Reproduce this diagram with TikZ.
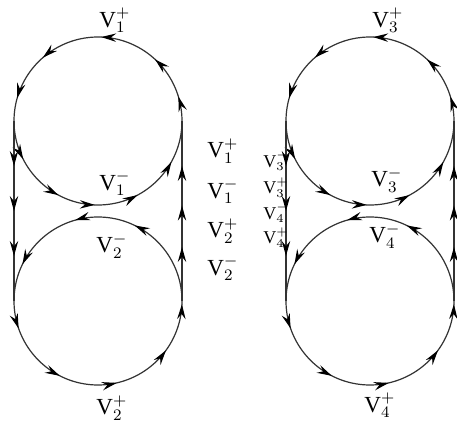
\documentclass[tikz,border=0pt]{standalone}
\usepackage{fontspec}
\setmainfont{Liberation Serif}
\usetikzlibrary{arrows.meta, decorations.markings}

\newcommand{\vlab}[2]{$\mathrm{V}^{#2}_{#1}$}
\newcommand{\vtight}[2]{V\rlap{\raisebox{0.5em}{$\scriptstyle#2$}}\raisebox{-0.2em}{$\scriptstyle#1$}}

\begin{document}
\begin{tikzpicture}[
    x=0.5pt, y=0.5pt,
    >={Stealth[length=7.5pt, width=4.2pt, inset=2.6pt, color=black]},
    % Styles for circuits, flow marks and labels
    track/.style={draw=black!80, line width=0.6pt},
    upperflow/.style={postaction={decorate}, decoration={markings,
        mark=at position 0.047 with {\arrow{>}},
        mark=at position 0.131 with {\arrow{>}},
        mark=at position 0.244 with {\arrow{>}},
        mark=at position 0.364 with {\arrow{>}},
        mark=at position 0.456 with {\arrow{>}},
        mark=at position 0.575 with {\arrow{>}},
        mark=at position 0.672 with {\arrow{>}},
        mark=at position 0.744 with {\arrow{>}},
        mark=at position 0.828 with {\arrow{>}},
        mark=at position 0.919 with {\arrow{>}}}},
    lowerflow/.style={postaction={decorate}, decoration={markings,
        mark=at position 0.178 with {\arrow{>}},
        mark=at position 0.294 with {\arrow{>}},
        mark=at position 0.428 with {\arrow{>}},
        mark=at position 0.553 with {\arrow{>}},
        mark=at position 0.675 with {\arrow{>}},
        mark=at position 0.786 with {\arrow{>}},
        mark=at position 0.900 with {\arrow{>}},
        mark=at position 0.994 with {\arrow{>}}}},
    downflow/.style={postaction={decorate}, decoration={markings,
        mark=at position 0.25 with {\arrow{>}},
        mark=at position 0.50 with {\arrow{>}},
        mark=at position 0.75 with {\arrow{>}}}},
    upflow/.style={postaction={decorate}, decoration={markings,
        mark=at position 0.30 with {\arrow{>}},
        mark=at position 0.53 with {\arrow{>}},
        mark=at position 0.75 with {\arrow{>}}}},
    vname/.style={anchor=base west, inner sep=0pt, font=\fontsize{11.5}{13}\selectfont},
    smallname/.style={anchor=base west, inner sep=0pt, font=\fontsize{9}{10}\selectfont}
]
    \useasboundingbox (0,0) rectangle (457,430);

    % --- CENTRES AND TANGENT POINTS ---
    \coordinate (c1) at (98,309);
    \coordinate (c2) at (98,129);
    \coordinate (c3) at (370,309);
    \coordinate (c4) at (370,129);
    \coordinate (c1w) at (14,309);
    \coordinate (c2w) at (14,129);
    \coordinate (c1e) at (182,309);
    \coordinate (c2e) at (182,129);
    \coordinate (c3w) at (286,309);
    \coordinate (c4w) at (286,129);
    \coordinate (c3e) at (454,309);
    \coordinate (c4e) at (454,129);

    % --- LEFT PAIR ---
    \draw [track, upperflow] (c1) circle[radius=84];
    \draw [track, lowerflow] (c2) circle[radius=84];
    \draw [track, downflow] (c1w) -- (c2w);
    \draw [track, upflow] (c2e) -- (c1e);

    % --- RIGHT PAIR ---
    \draw [track, upperflow] (c3) circle[radius=84];
    \draw [track, lowerflow] (c4) circle[radius=84];
    \draw [track, downflow] (c3w) -- (c4w);
    \draw [track, upflow] (c4e) -- (c3e);

    % --- LABELS ---
    \node [vname] (v1top) at (99,403) {\vlab{1}{+}};
    \node [vname] (v1in) at (99,240) {\vlab{1}{-}};
    \node [vname] (v2in) at (96,177) {\vlab{2}{-}};
    \node [vname] (v2bot) at (96,15) {\vlab{2}{+}};

    \node [vname] (m1p) at (207,272) {\vlab{1}{+}};
    \node [vname] (m1m) at (207,232) {\vlab{1}{-}};
    \node [vname] (m2p) at (207,192) {\vlab{2}{+}};
    \node [vname] (m2m) at (207,155) {\vlab{2}{-}};

    \node [vname] (v3top) at (372,403) {\vlab{3}{+}};
    \node [vname] (v3in) at (371,243) {\vlab{3}{-}};
    \node [vname] (v4in) at (369,187) {\vlab{4}{-}};
    \node [vname] (v4bot) at (364,18) {\vlab{4}{+}};

    \node [smallname] (s3m) at (263,263) {\vtight{3}{-}};
    \node [smallname] (s3p) at (263,236) {\vtight{3}{+}};
    \node [smallname] (s4m) at (263,211) {\vtight{4}{-}};
    \node [smallname] (s4p) at (263,186) {\vtight{4}{+}};

\end{tikzpicture}
\end{document}
